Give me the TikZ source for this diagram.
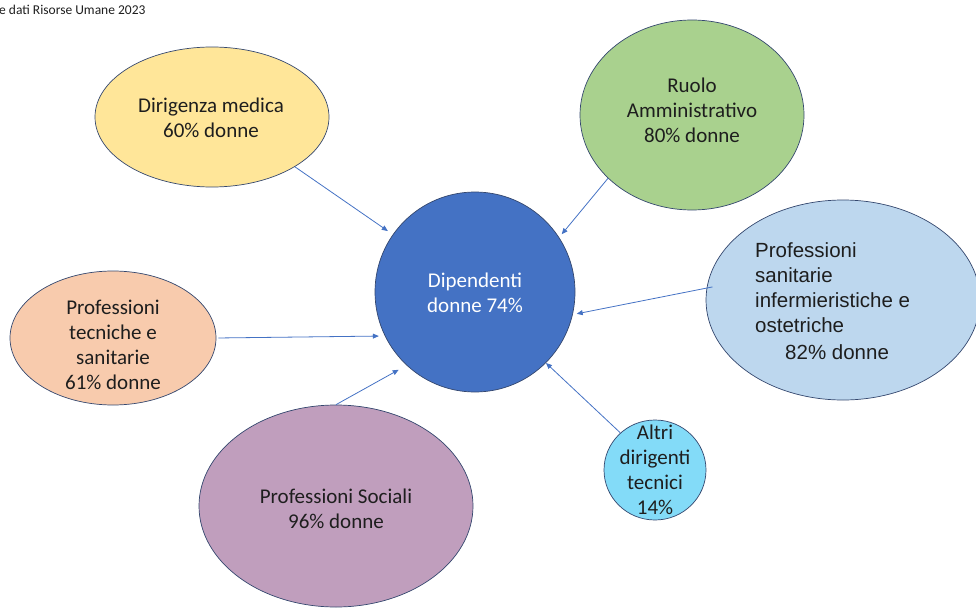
\documentclass[tikz,border=0pt]{standalone}
\usepackage{fontspec}
\setmainfont{Carlito}
\newfontfamily\arialfont{Liberation Sans}
\usetikzlibrary{arrows.meta,shapes.geometric}
\definecolor{cblue}{HTML}{4472C4}
\definecolor{cedge}{HTML}{34476E}
\definecolor{cyellow}{HTML}{FFE699}
\definecolor{cgreen}{HTML}{A9D18E}
\definecolor{clblue}{HTML}{BDD7EE}
\definecolor{corange}{HTML}{F8CBAD}
\definecolor{cpurple}{HTML}{C09EBD}
\definecolor{ccyan}{HTML}{83DBF8}
\definecolor{ctext}{HTML}{1E1E1E}
\tikzset{
  blob/.style={ellipse, draw=cedge, line width=0.7pt, inner sep=0pt},
  lbl/.style={align=center, text=ctext, font=\fontsize{21}{25}\selectfont, inner sep=0pt},
  conn/.style={draw=cblue, line width=0.8pt, -{Triangle[length=6pt,width=5pt]}},
}
\begin{document}
\begin{tikzpicture}[x=1pt,y=-1pt]
\useasboundingbox (0,0) rectangle (976,607);
\node[anchor=base west, inner sep=0pt, text=ctext, font=\fontsize{13.5}{16}\selectfont] (src) at (-1,15) {e dati Risorse Umane 2023};

\node[circle, draw=cedge, line width=0.7pt, fill=cblue, minimum size=200pt, inner sep=0pt] (c) at (475,292) {};
\node[lbl, text=white] (ct) at (475,292.5) {Dipendenti\\donne 74\%};

\node[blob, fill=cyellow, minimum width=234pt, minimum height=140pt] (dm) at (212,117) {};
\node[lbl] (dmt) at (211,118) {Dirigenza medica\\60\% donne};

\node[blob, fill=cgreen, minimum width=224pt, minimum height=190pt] (ra) at (692,115) {};
\node[lbl] (rat) at (692,110) {Ruolo\\Amministrativo\\80\% donne};

\node[blob, fill=clblue, minimum width=274pt, minimum height=200pt] (ps) at (843,300) {};
\node[lbl, align=left, font=\arialfont\fontsize{20.5}{25}\selectfont, anchor=north west] (pst) at (755,242) {Professioni\\sanitarie\\infermieristiche e\\ostetriche\\[2pt]\hspace*{30pt}82\% donne};

\node[blob, fill=corange, minimum width=206pt, minimum height=134pt] (pt) at (113,338) {};
\node[lbl] (ptt) at (113,344.5) {Professioni\\tecniche e\\sanitarie\\61\% donne};

\node[blob, fill=cpurple, minimum width=274pt, minimum height=202pt] (so) at (336,506) {};
\node[lbl] (sot) at (336,508.5) {Professioni Sociali\\96\% donne};

\node[blob, fill=ccyan, minimum width=102pt, minimum height=100pt] (ad) at (655,470) {};
\node[lbl] (adt) at (655,469.5) {Altri\\dirigenti\\tecnici\\14\%};

\draw[conn, shorten >=6pt] (dm.-31) -- (c.145);
\draw[conn, shorten >=4pt] (ra.217) -- (c.33);
\draw[conn, shorten <=-6pt, shorten >=4pt] (ps.175) -- (c.-13);
\draw[conn, shorten <=2pt, shorten >=6pt] (pt.0) -- (c.206);
\draw[conn, shorten >=9pt] (so.90) -- (c.227);
\draw[conn] (ad.133) -- (c.-45);
\end{tikzpicture}
\end{document}
